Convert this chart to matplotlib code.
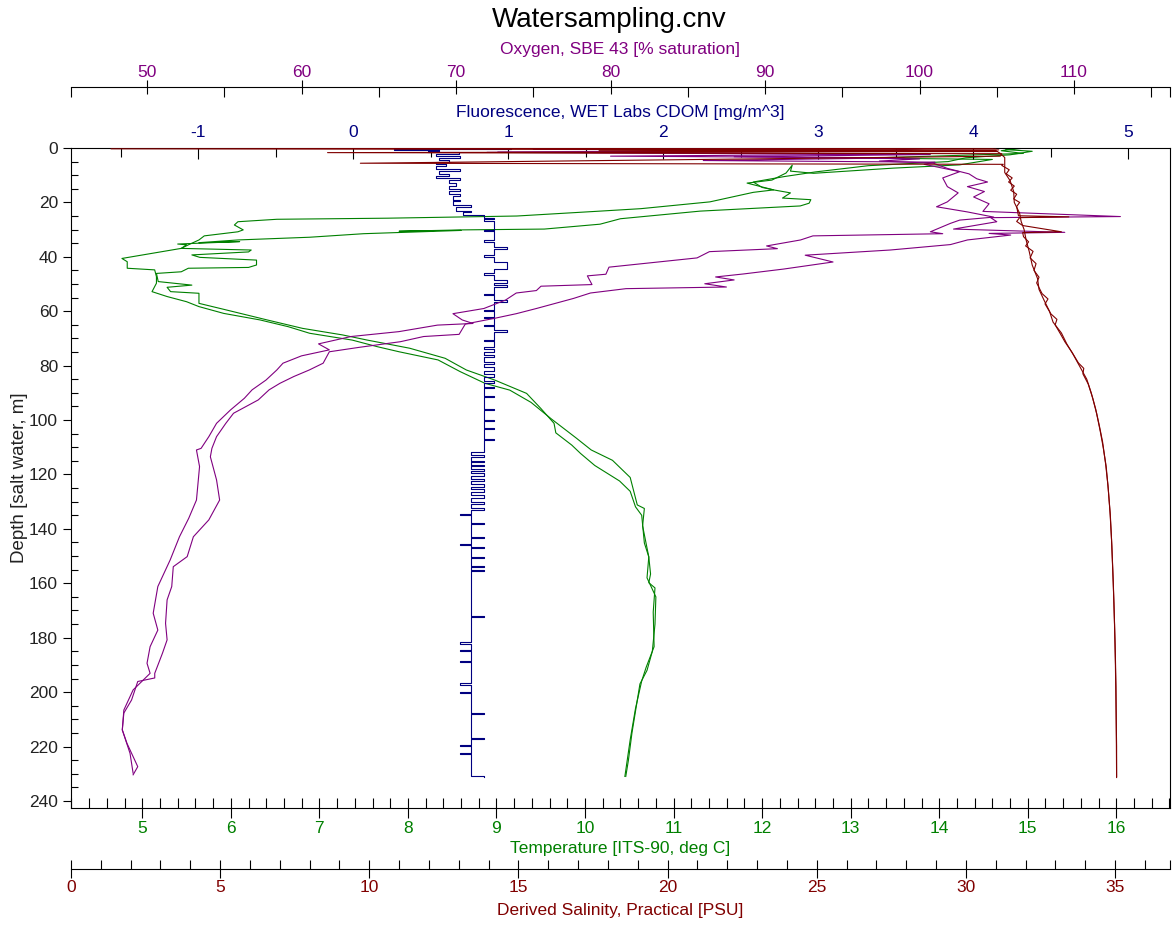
import numpy as np
import matplotlib
matplotlib.use("Agg")
import matplotlib.pyplot as plt
from matplotlib.ticker import MultipleLocator, FixedLocator

plt.rcParams['font.family'] = ['Liberation Sans', 'DejaVu Sans']
plt.rcParams['axes.unicode_minus'] = False

# ---------- values (depth m, value) ----------
# temperature [deg C], two casts
temp_down = [(0.0, 14.90), (1.0, 14.70), (2.0, 14.95), (3.7, 13.20), (4.2, 14.60), (6.2, 14.23),
             (7.4, 13.48), (9.3, 12.58), (8.5, 12.32), (6.3, 12.34), (9.2, 12.27), (11.8, 12.11),
             (12.9, 11.83), (15.4, 12.13), (16.3, 11.90), (19.8, 11.41), (22.3, 10.63), (23.2, 10.17),
             (25.0, 9.23), (25.8, 7.77), (26.2, 6.52), (27.1, 6.08), (28.3, 6.04), (30.1, 6.14),
             (30.8, 6.08), (32.3, 5.70), (33.8, 5.64), (35.6, 5.52), (36.9, 5.44), (40.6, 4.77),
             (41.8, 4.83), (44.2, 4.83), (44.8, 5.14), (47.3, 5.16), (49.7, 5.16), (52.8, 5.11),
             (54.6, 5.28), (56.5, 5.50), (58.3, 5.64), (60.8, 5.92), (63.2, 6.33), (65.7, 6.65),
             (68.1, 6.89), (70.6, 7.37), (73.0, 7.65), (74.9, 7.90), (77.9, 8.34), (82.2, 8.59),
             (86.5, 8.87), (89.0, 9.15), (93.5, 9.39), (99.6, 9.62), (106.6, 9.90), (111.0, 10.07),
             (114.8, 10.31), (121.1, 10.51), (131.2, 10.59), (132.5, 10.67), (138.9, 10.65),
             (150.3, 10.72), (156.6, 10.74), (159.8, 10.72), (161.7, 10.79), (170.6, 10.77),
             (183.3, 10.78), (190.9, 10.69), (195.9, 10.64), (206.0, 10.57), (217.5, 10.51),
             (231.0, 10.45)]
temp_up = [(0.0, 15.00), (0.6, 14.75), (1.2, 15.05), (2.5, 14.80), (3.6, 14.30), (5.0, 14.10),
           (6.5, 13.20), (8.8, 12.60), (10.5, 12.25), (12.5, 11.90), (14.5, 12.00), (15.4, 12.13),
           (16.5, 12.32), (18.4, 12.23), (19.0, 12.55), (20.3, 12.53), (21.3, 12.43), (23.2, 11.30),
           (26.0, 10.40), (28.0, 10.17), (29.8, 9.54), (30.1, 8.62), (30.6, 7.90), (30.3, 8.60),
           (31.5, 7.50), (32.8, 6.89), (33.8, 6.08), (34.8, 5.64), (34.4, 6.10), (35.3, 5.40),
           (35.6, 5.50), (36.9, 5.44), (37.5, 6.23), (38.2, 6.20), (39.3, 5.56), (40.2, 5.65),
           (41.2, 6.29), (43.0, 6.29), (43.9, 6.20), (44.2, 5.52), (45.5, 5.44), (46.1, 5.16),
           (49.1, 5.18), (50.4, 5.56), (51.2, 5.28), (52.8, 5.32), (53.4, 5.64), (55.3, 5.64),
           (57.1, 5.64), (59.3, 5.92), (63.2, 6.41), (66.3, 6.81), (68.7, 7.26), (70.6, 7.54),
           (73.6, 8.02), (77.3, 8.42), (81.6, 8.66), (85.3, 8.98), (90.2, 9.34), (95.7, 9.50),
           (101.2, 9.65), (104.7, 9.67), (109.2, 9.85), (112.3, 9.95), (116.7, 10.11),
           (122.4, 10.39), (126.2, 10.51), (131.9, 10.57), (135.0, 10.64), (145.2, 10.67),
           (150.3, 10.72), (158.0, 10.70), (165.0, 10.80), (175.0, 10.79), (185.0, 10.76),
           (192.0, 10.70), (197.0, 10.62), (205.0, 10.58), (215.0, 10.53), (225.0, 10.49),
           (231.0, 10.46)]

# oxygen [% saturation], two casts
oxy_down = [(0.0, 100.0), (0.5, 75.0), (1.0, 99.5), (1.5, 72.7), (2.2, 100.5), (3.0, 80.0),
            (3.6, 99.0), (4.6, 86.0), (5.2, 101.0), (6.0, 100.3), (8.7, 102.6), (11.0, 101.5),
            (14.2, 101.8), (16.5, 102.5), (19.8, 101.8), (21.6, 101.1), (23.5, 103.1), (25.4, 104.8),
            (26.5, 102.6), (27.7, 102.0), (30.8, 100.7), (31.5, 101.5), (32.3, 93.1), (33.8, 92.3),
            (36.0, 90.1), (37.0, 90.8), (38.1, 86.4), (40.4, 85.6), (43.8, 79.9), (46.4, 79.7),
            (47.0, 78.5), (50.2, 78.8), (50.8, 75.5), (52.4, 75.2), (53.3, 73.9), (55.9, 73.2),
            (59.0, 71.8), (60.9, 69.8), (63.2, 70.4), (64.5, 71.1), (65.1, 68.8), (67.5, 66.3),
            (69.3, 63.2), (72.0, 61.1), (74.2, 61.8), (76.4, 60.0), (79.1, 58.8), (81.6, 58.4),
            (85.3, 57.7), (88.9, 56.8), (92.0, 56.3), (96.3, 55.4), (101.2, 54.5), (106.1, 54.0),
            (110.4, 53.5), (111.0, 53.2), (117.1, 53.4), (129.4, 53.2), (136.1, 52.7),
            (142.9, 52.1), (151.4, 51.5), (161.2, 50.7), (171.0, 50.4), (177.2, 50.7),
            (183.3, 50.2), (189.4, 50.0), (193.1, 50.2), (199.2, 49.1), (206.6, 48.5),
            (213.9, 48.4), (222.5, 48.9), (229.8, 49.1)]
oxy_up = [(0.0, 101.0), (0.8, 98.0), (1.6, 72.0), (2.4, 100.7), (3.2, 88.0), (4.0, 100.0),
          (4.8, 97.4), (5.6, 100.9), (7.5, 101.8), (9.5, 103.2), (11.3, 103.7), (12.5, 104.4),
          (14.2, 103.1), (16.0, 104.2), (18.0, 103.5), (20.5, 104.5), (23.3, 104.1), (25.2, 113.0),
          (25.6, 104.6), (27.1, 105.0), (29.8, 102.2), (31.0, 109.4), (31.4, 104.5), (32.0, 105.9),
          (33.8, 103.1), (35.5, 102.0), (37.5, 98.1), (39.4, 92.6), (41.9, 94.4), (44.5, 91.2),
          (46.3, 88.6), (47.4, 86.8), (48.5, 88.0), (49.9, 86.1), (51.1, 87.5), (51.7, 81.0),
          (53.3, 78.7), (55.3, 77.6), (59.0, 75.2), (60.9, 73.9), (62.6, 72.5), (64.7, 70.6),
          (68.5, 70.2), (69.3, 67.9), (71.2, 66.4), (73.3, 63.7), (74.9, 61.8), (79.1, 61.4),
          (81.6, 60.5), (84.0, 59.5), (86.5, 58.6), (88.9, 57.9), (92.6, 57.2), (97.5, 55.6),
          (101.2, 55.1), (106.1, 54.5), (110.4, 54.2), (113.5, 54.1), (122.0, 54.5),
          (129.4, 54.7), (136.7, 54.0), (142.9, 53.0), (150.2, 52.6), (153.9, 51.7),
          (161.2, 51.6), (166.1, 51.3), (174.7, 51.2), (180.8, 51.3), (185.7, 51.0),
          (193.1, 50.5), (194.8, 50.5), (196.1, 49.4), (202.9, 49.0), (207.7, 48.5),
          (213.9, 48.4), (218.8, 48.7), (223.7, 49.1), (227.4, 49.4), (230.4, 49.1)]

# salinity [PSU], two casts
sal_down = [(0.0, 31.00), (0.3, 1.34), (0.7, 31.10), (1.0, 17.70), (1.3, 31.05), (1.7, 8.60),
            (2.1, 31.20), (3.0, 31.15), (5.6, 9.70), (6.0, 31.25), (6.4, 31.20), (8.0, 31.45),
            (9.5, 31.35), (11.0, 31.55), (12.5, 31.43), (14.0, 31.62), (15.5, 31.50), (17.0, 31.70),
            (18.7, 31.60), (20.0, 31.80), (21.5, 31.70), (24.9, 31.76), (25.3, 33.45), (25.6, 31.80),
            (27.0, 31.70), (28.5, 31.90), (30.8, 33.20), (31.1, 31.90), (32.6, 31.93), (34.5, 32.10),
            (36.0, 32.00), (38.0, 32.25), (40.4, 32.15), (42.5, 32.35), (45.0, 32.28), (47.5, 32.45),
            (49.6, 32.37), (53.5, 32.55), (55.5, 32.75), (57.3, 32.65), (61.0, 32.85), (63.0, 33.05),
            (65.0, 32.99), (68.0, 33.15), (71.3, 33.32), (75.0, 33.55), (79.0, 33.77), (81.0, 33.95),
            (83.0, 33.92), (86.8, 34.10), (92.0, 34.25), (97.6, 34.38), (104.0, 34.50),
            (110.0, 34.60), (117.0, 34.70), (125.3, 34.77), (134.0, 34.83), (144.0, 34.88),
            (155.0, 34.92), (167.2, 34.96), (182.0, 35.00), (198.0, 35.03), (215.0, 35.04),
            (231.4, 35.05)]
sal_up = [(0.0, 30.90), (0.5, 19.00), (0.9, 31.00), (2.0, 31.15), (3.5, 31.30), (6.0, 31.30),
          (9.0, 31.30), (12.0, 31.48), (16.0, 31.60), (20.0, 31.62), (24.0, 31.80), (27.0, 31.85),
          (30.0, 31.95), (34.0, 32.02), (38.0, 32.12), (43.0, 32.22), (48.0, 32.40), (52.0, 32.45),
          (56.0, 32.62), (60.0, 32.80), (64.0, 32.92), (68.0, 33.20), (72.0, 33.38), (76.0, 33.60),
          (80.0, 33.80), (85.0, 34.05), (90.0, 34.20), (96.0, 34.35), (102.0, 34.47),
          (108.0, 34.58), (116.0, 34.68), (124.0, 34.76), (135.0, 34.84), (146.0, 34.89),
          (160.0, 34.94), (175.0, 34.98), (190.0, 35.01), (205.0, 35.03), (220.0, 35.05),
          (231.0, 35.05)]

# fluorescence [mg/m^3], value held from its depth down to the next depth
fluor = [(0.0, 1.02), (0.3, 0.26), (0.7, 0.55), (1.2, 0.48), (1.6, 0.68), (2.2, 0.53),
         (3.0, 0.69), (3.6, 0.55), (4.4, 0.62), (5.0, 0.53), (6.0, 0.60), (6.6, 0.53),
         (7.8, 0.69), (8.4, 0.55), (9.6, 0.62), (10.2, 0.53), (11.2, 0.69), (11.8, 0.62),
         (13.0, 0.66), (13.8, 0.62), (15.0, 0.69), (15.8, 0.62), (17.0, 0.69), (17.5, 0.64),
         (19.0, 0.69), (19.6, 0.64), (21.0, 0.76), (21.8, 0.66), (23.0, 0.76), (23.6, 0.71),
         (24.6, 0.84), (25.6, 0.91), (26.0, 0.84), (27.0, 0.91), (30.0, 0.84), (30.4, 0.91),
         (34.0, 0.84), (34.5, 0.91), (36.5, 0.99), (37.3, 0.91), (39.5, 0.84), (40.0, 0.91),
         (42.0, 0.99), (44.5, 0.91), (46.0, 0.84), (46.5, 0.91), (48.5, 0.99), (49.5, 0.91),
         (50.5, 0.99), (51.0, 0.91), (53.5, 0.84), (54.0, 0.91), (56.0, 0.99), (56.6, 0.91),
         (59.5, 0.84), (60.0, 0.91), (62.0, 0.84), (62.4, 0.91), (65.0, 0.84), (65.6, 0.91),
         (67.0, 0.99), (67.6, 0.91), (70.5, 0.84), (71.0, 0.91), (73.0, 0.84), (74.0, 0.91),
         (75.0, 0.84), (76.0, 0.91), (77.0, 0.84), (78.5, 0.91), (79.5, 0.84), (80.5, 0.91),
         (82.0, 0.84), (83.0, 0.91), (84.0, 0.84), (85.5, 0.91), (86.2, 0.84), (88.0, 0.91),
         (88.4, 0.84), (91.0, 0.91), (91.4, 0.84), (96.0, 0.91), (96.4, 0.84), (100.0, 0.91),
         (100.3, 0.84), (103.0, 0.91), (103.3, 0.84), (107.0, 0.91), (107.3, 0.84),
         (111.6, 0.76), (113.0, 0.84), (113.5, 0.76), (115.0, 0.84), (115.4, 0.76),
         (116.5, 0.84), (117.0, 0.76), (118.0, 0.84), (118.6, 0.76), (119.5, 0.84),
         (120.5, 0.76), (121.5, 0.84), (122.5, 0.76), (123.5, 0.84), (124.5, 0.76),
         (125.5, 0.84), (126.5, 0.76), (127.5, 0.84), (128.5, 0.76), (130.0, 0.84),
         (130.8, 0.76), (132.5, 0.84), (133.0, 0.76), (134.6, 0.69), (135.0, 0.76),
         (137.9, 0.84), (138.3, 0.76), (143.0, 0.84), (143.4, 0.76), (145.6, 0.69),
         (146.0, 0.76), (146.7, 0.84), (147.1, 0.76), (150.5, 0.84), (150.8, 0.76),
         (153.7, 0.84), (154.0, 0.76), (155.3, 0.84), (155.6, 0.76), (172.0, 0.84),
         (172.4, 0.76), (181.7, 0.69), (182.5, 0.76), (184.5, 0.69), (185.0, 0.76),
         (188.4, 0.69), (188.8, 0.76), (196.6, 0.69), (197.4, 0.76), (199.8, 0.69),
         (200.2, 0.76), (207.7, 0.84), (208.1, 0.76), (216.9, 0.84), (217.3, 0.76),
         (219.4, 0.69), (219.8, 0.76), (222.3, 0.69), (222.7, 0.76), (231.0, 0.84),
         (231.3, 0.84)]

# axis ranges
depth_range = (242.6, 0)
temp_range = (4.195, 16.606)
sal_range = (0, 36.84)
oxy_range = (45.08, 116.21)
fl_range = (-1.823, 5.271)

c_temp = '#008000'
c_sal = '#800000'
c_oxy = '#800080'
c_fl = '#000080'

W, H = 1173, 927
P = 0.72   # pixels -> points at 100 dpi
fig = plt.figure(figsize=(W / 100, H / 100), dpi=100)

# plot frame in pixels
x0, x1, y0, y1 = 71, 1170, 148, 808
ax = fig.add_axes([x0 / W, 1 - y1 / H, (x1 - x0) / W, (y1 - y0) / H])
ax_fl = ax.twiny()
ax_ox = ax.twiny()
ax_sal = ax.twiny()

lw = 0.8
for prof in (temp_down, temp_up):
    d, v = zip(*prof)
    ax.plot(v, d, color=c_temp, lw=lw)
d, v = zip(*fluor)
ax_fl.plot(v, d, color=c_fl, lw=lw, drawstyle='steps-pre')
for prof in (oxy_down, oxy_up):
    d, v = zip(*prof)
    ax_ox.plot(v, d, color=c_oxy, lw=lw)
for prof in (sal_down, sal_up):
    d, v = zip(*prof)
    ax_sal.plot(v, d, color=c_sal, lw=lw)

ax.set_xlim(*temp_range)
ax_fl.set_xlim(*fl_range)
ax_ox.set_xlim(*oxy_range)
ax_sal.set_xlim(*sal_range)
ax.set_ylim(*depth_range)

# spines
for a in (ax_fl, ax_ox, ax_sal):
    for s in a.spines.values():
        s.set_visible(False)
for s in ax.spines.values():
    s.set_linewidth(0.8)
ax_ox.spines['top'].set_visible(True)
ax_ox.spines['top'].set_position(('outward', 61 * P))
ax_ox.spines['top'].set_linewidth(0.8)
ax_sal.xaxis.set_ticks_position('bottom')
ax_sal.xaxis.set_label_position('bottom')
ax_sal.spines['bottom'].set_visible(True)
ax_sal.spines['bottom'].set_position(('outward', 61 * P))
ax_sal.spines['bottom'].set_linewidth(0.8)

fs = 12.5
tw = 0.8

# depth axis
ax.yaxis.set_major_locator(MultipleLocator(20))
ax.yaxis.set_minor_locator(MultipleLocator(5))
ax.tick_params(axis='y', which='major', direction='out', length=8 * P, width=tw,
               pad=5 * P, labelsize=fs, labelcolor='#222222', right=False)
ax.tick_params(axis='y', which='minor', direction='in', length=7 * P, width=tw, right=False)

# temperature (inner bottom)
ax.xaxis.set_major_locator(MultipleLocator(1))
ax.xaxis.set_minor_locator(MultipleLocator(0.2))
ax.tick_params(axis='x', which='major', direction='inout', length=20 * P, width=tw,
               pad=3 * P, labelsize=fs, labelcolor=c_temp, top=False)
ax.tick_params(axis='x', which='minor', direction='in', length=10 * P, width=tw, top=False)

# fluorescence (inner top)
ax_fl.xaxis.set_major_locator(MultipleLocator(1))
ax_fl.xaxis.set_minor_locator(MultipleLocator(0.5))
ax_fl.tick_params(axis='x', which='major', direction='in', length=11 * P, width=tw,
                  pad=8 * P, labelsize=fs, labelcolor=c_fl)
ax_fl.tick_params(axis='x', which='minor', direction='in', length=9 * P, width=tw)

# oxygen (outer top)
ax_ox.xaxis.set_major_locator(MultipleLocator(10))
ax_ox.xaxis.set_minor_locator(FixedLocator([oxy_range[0]] + list(range(50, 120, 5)) + [oxy_range[1]]))
ax_ox.tick_params(axis='x', which='major', direction='inout', length=14 * P, width=tw,
                  pad=0, labelsize=fs, labelcolor=c_oxy)
ax_ox.tick_params(axis='x', which='minor', direction='in', length=10 * P, width=tw)

# salinity (outer bottom)
ax_sal.xaxis.set_major_locator(MultipleLocator(5))
ax_sal.xaxis.set_minor_locator(FixedLocator(list(range(1, 37)) + [sal_range[1]]))
ax_sal.tick_params(axis='x', which='major', direction='inout', length=18 * P, width=tw,
                   pad=2 * P, labelsize=fs, labelcolor=c_sal)
ax_sal.tick_params(axis='x', which='minor', direction='in', length=9 * P, width=tw)

# axis titles, placed in axes coordinates of the frame
hpx = y1 - y0
ax.set_ylabel('Depth [salt water, m]', fontsize=13.5, color='#222222')
ax.yaxis.set_label_coords((20 - x0) / (x1 - x0), 0.5)
ax.yaxis.label.set_va('center')

labels = [(ax, 'Temperature [ITS-90, deg C]', c_temp, 849),
          (ax_sal, 'Derived Salinity, Practical [PSU]', c_sal, 910),
          (ax_fl, 'Fluorescence, WET Labs CDOM [mg/m^3]', c_fl, 112),
          (ax_ox, 'Oxygen, SBE 43 [% saturation]', c_oxy, 49)]
for a, txt, col, ypx in labels:
    a.set_xlabel(txt, fontsize=fs, color=col)
    a.xaxis.set_label_coords(0.5, (y1 - ypx) / hpx)
    a.xaxis.label.set_va('center')

fig.text(609 / W, 1 - 20 / H, 'Watersampling.cnv', ha='center', va='center', fontsize=20)

fig.savefig('out.png', dpi=100)
